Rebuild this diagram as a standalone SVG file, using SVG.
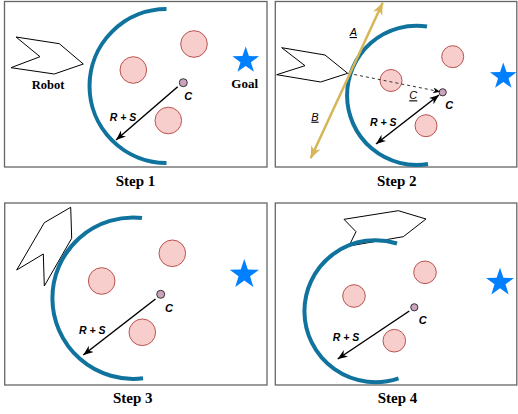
<svg xmlns="http://www.w3.org/2000/svg" width="518" height="414" viewBox="0 0 518 414">
<style>
.frame{fill:#fff;stroke:#666;stroke-width:1.3}
.arc{fill:none;stroke:#10739e;stroke-width:4}
.obs{fill:#f8cecc;stroke:#b85450;stroke-width:1}
.pt{fill:#cda2be;stroke:#333;stroke-width:1}
.robot{fill:#fff;stroke:#000;stroke-width:1}
.star{fill:#007fff}
.rs{stroke:#000;stroke-width:1.5;fill:none}
.dash{stroke:#333;stroke-width:1;stroke-dasharray:3 3;fill:none}
.gold{stroke:#d6b656;stroke-width:2.5;fill:none}
.lbl{font-family:"Liberation Sans",Arial,sans-serif;font-weight:bold;font-style:italic;fill:#000;text-anchor:middle}
.ul{font-family:"Liberation Sans",Arial,sans-serif;font-style:italic;font-size:11px;text-decoration:underline;fill:#000;text-anchor:middle}
.cap{font-family:"Liberation Serif","Times New Roman",serif;font-weight:bold;fill:#000;text-anchor:middle}
</style>
<defs>
<marker id="ah" markerUnits="userSpaceOnUse" markerWidth="12" markerHeight="10" refX="10" refY="4" orient="auto-start-reverse" viewBox="0 0 12 10">
<path d="M0,0 L10,4 L0,8 L3,4 Z" fill="#000"/>
</marker>
<marker id="ahs" markerUnits="userSpaceOnUse" markerWidth="8" markerHeight="8" refX="7" refY="3" orient="auto" viewBox="0 0 8 8">
<path d="M0,0 L7,3 L0,6 L2,3 Z" fill="#000"/>
</marker>
<marker id="ahg" markerUnits="userSpaceOnUse" markerWidth="14" markerHeight="12" refX="12" refY="5" orient="auto-start-reverse" viewBox="0 0 14 12">
<path d="M0,0 L12,5 L0,10 L3.5,5 Z" fill="#d6b656"/>
</marker>
<path id="starShape" d="M0,-14 L3.23,-4.45 L13.31,-4.33 L5.23,1.7 L8.23,11.33 L0,5.5 L-8.23,11.33 L-5.23,1.7 L-13.31,-4.33 L-3.23,-4.45 Z"/>
</defs>

<!-- Step 1 -->
<g id="panel1">
<rect class="frame" x="4.5" y="1.5" width="262.5" height="165.5"/>
<text class="cap" x="135.5" y="185.5" font-size="15">Step 1</text>
</g>
<g id="robot1"><polygon class="robot" points="16,37 59.3,43.7 83.3,64 54.3,74 11,67.7 40,56.7"/><text class="cap" x="48" y="89.3" font-size="12.5">Robot</text></g>
<g id="arc1"><path class="arc" d="M166.5,9 A77,77 0 0 0 166.5,163"/></g>
<g id="obs1a"><circle class="obs" cx="194" cy="44" r="13.3"/></g>
<g id="obs1b"><circle class="obs" cx="133.3" cy="70" r="13.3"/></g>
<g id="obs1c"><circle class="obs" cx="168.3" cy="120.5" r="13.3"/></g>
<g id="goal1"><use href="#starShape" class="star" transform="translate(245.7,60.5)"/><text class="cap" x="244.7" y="87.7" font-size="13">Goal</text></g>
<g id="c1"><circle class="pt" cx="183.3" cy="82.7" r="4"/><text class="lbl" x="188.3" y="100" font-size="11">C</text></g>

<!-- Step 2 -->
<g id="panel2">
<rect class="frame" x="275.3" y="1.5" width="241.5" height="165.5"/>
<text class="cap" x="396.7" y="185.5" font-size="15">Step 2</text>
</g>
<g id="robot2"><polygon class="robot" points="281.7,47.7 325,55 347.7,73.3 320.7,82 276.7,74.7 305,65.7"/></g>
<g id="arc2"><path class="arc" d="M427,26.5 A69.6,69.6 0 1 0 428,164"/></g>
<g id="obs2a"><circle class="obs" cx="452.7" cy="56.7" r="11"/></g>
<g id="obs2b"><circle class="obs" cx="391" cy="80.5" r="11"/></g>
<g id="obs2c"><circle class="obs" cx="426" cy="125.7" r="11"/></g>
<g id="goal2"><use href="#starShape" class="star" transform="translate(503.3,76.5)"/></g>
<g id="c2"><circle class="pt" cx="442.7" cy="92.3" r="3.6"/><text class="lbl" x="449.3" y="109" font-size="11">C</text></g>

<!-- Step 3 -->
<g id="panel3">
<rect class="frame" x="4.7" y="203" width="262.3" height="182"/>
<text class="cap" x="132.8" y="403.3" font-size="15">Step 3</text>
</g>
<g id="robot3"><polygon class="robot" points="44.3,222.7 70.7,207.3 71.7,238.3 44.3,286 43.3,254 16.7,270"/></g>
<g id="arc3"><path class="arc" d="M142,218 A80.7,80.7 0 1 0 143,378.3"/></g>
<g id="obs3a"><circle class="obs" cx="172.3" cy="253.3" r="13.3"/></g>
<g id="obs3b"><circle class="obs" cx="101.7" cy="281" r="13.3"/></g>
<g id="obs3c"><circle class="obs" cx="142.3" cy="332.3" r="13.3"/></g>
<g id="goal3"><use href="#starShape" class="star" transform="translate(244.3,274.5) scale(1.1)"/></g>
<g id="c3"><circle class="pt" cx="160.7" cy="294.3" r="4"/><text class="lbl" x="169" y="312" font-size="11">C</text></g>

<!-- Step 4 -->
<g id="panel4">
<rect class="frame" x="275.3" y="203" width="241.5" height="182"/>
<text class="cap" x="397.5" y="403.3" font-size="15">Step 4</text>
</g>
<g id="robot4"><polygon class="robot" points="344,219.3 398.3,210.7 426,219 403.3,236.7 349,246 356,231.7"/></g>
<g id="arc4"><path class="arc" d="M397,243.5 A71,71 0 1 0 398.5,378.3"/></g>
<g id="obs4a"><circle class="obs" cx="425" cy="272.3" r="11.3"/></g>
<g id="obs4b"><circle class="obs" cx="354" cy="296" r="11.3"/></g>
<g id="obs4c"><circle class="obs" cx="394.3" cy="340.7" r="11.3"/></g>
<g id="goal4"><use href="#starShape" class="star" transform="translate(500,282.5) scale(1.05)"/></g>
<g id="c4"><circle class="pt" cx="414.3" cy="307.3" r="3.6"/><text class="lbl" x="422.7" y="324" font-size="11">C</text></g>

<!-- Connectors -->
<g id="connectors">
<line class="rs" x1="177.7" y1="86.7" x2="116" y2="140" marker-end="url(#ah)"/>
<text class="lbl" x="123" y="121.3" font-size="10.5">R + S</text>

<line class="dash" x1="348.3" y1="73.3" x2="440" y2="91.7" marker-end="url(#ahs)"/>
<text class="ul" x="413.3" y="99.3">C</text>
<line class="rs" x1="439" y1="95" x2="376" y2="144" marker-start="url(#ah)" marker-end="url(#ah)"/>
<text class="lbl" x="383.3" y="126.3" font-size="10.5">R + S</text>
<line class="gold" x1="310.7" y1="158.3" x2="382.7" y2="2.7" marker-start="url(#ahg)" marker-end="url(#ahg)"/>
<text class="ul" x="353.3" y="36">A</text>
<text class="ul" x="315" y="120.7">B</text>

<line class="rs" x1="155.5" y1="299" x2="83.3" y2="355" marker-end="url(#ah)"/>
<text class="lbl" x="92.3" y="333.6" font-size="10.5">R + S</text>

<line class="rs" x1="409.3" y1="311" x2="337.7" y2="359" marker-end="url(#ah)"/>
<text class="lbl" x="346" y="341" font-size="10.5">R + S</text>
</g>
</svg>
